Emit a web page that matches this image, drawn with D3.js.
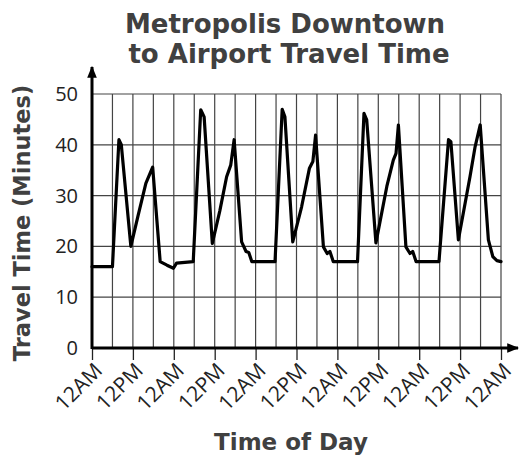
<!DOCTYPE html>
<meta charset="utf-8">
<style>
body { margin: 0; background: #fff; }
text { font-family: "Open Sans", sans-serif; }
.bold { font-family: "DejaVu Sans", sans-serif; font-weight: bold; fill: #404040; }
.grid line { stroke: #444; stroke-width: 1.2; }
.trace { fill: none; stroke: #000; stroke-width: 3.2; stroke-linejoin: round; stroke-linecap: round; }
</style>
<svg width="519" height="457"></svg>
<script src="https://d3js.org/d3.v7.min.js"></script>
<script>

// hours since the first 12AM, and travel time in minutes
var hours = [0, 6, 7.9, 8.6, 11.4, 13.5, 15.8, 17.8, 20, 22, 23.9, 24.8, 29.7,
  31.9, 32.9, 35.3, 37.5, 39.5, 40.7, 41.7, 43.9, 45.2, 46, 46.9, 53.7,
  55.8, 56.6, 58.9, 61.5, 63.8, 64.8, 65.6, 67.9, 69, 69.8, 70.8, 77.9,
  79.8, 80.6, 83.3, 86.5, 88.4, 89.2, 89.9, 92.1, 93.3, 94.1, 95.1, 101.8,
  104.6, 105.3, 107.5, 110.9, 112.4, 113.9, 116.3, 117.6, 118.8, 120];
var minutes = [16, 16, 41, 40, 20, 26, 32.4, 35.6, 17, 16.3, 15.7, 16.7, 17,
  46.9, 45.5, 20.6, 27, 33.7, 36, 41, 20.9, 19, 18.8, 17, 17,
  47, 45.5, 20.9, 27.8, 35.4, 36.7, 41.9, 19.9, 18.6, 19, 17, 17,
  46.2, 44.9, 20.7, 31.8, 37, 38.3, 43.9, 19.9, 18.6, 19, 17, 17,
  41, 40.6, 21.3, 33.7, 39.6, 43.9, 21.3, 18, 17.2, 17];

var xTickValues = [0, 12, 24, 36, 48, 60, 72, 84, 96, 108, 120];
var xTickLabels = ["12AM", "12PM", "12AM", "12PM", "12AM", "12PM", "12AM", "12PM", "12AM", "12PM", "12AM"];
var yTickValues = [0, 10, 20, 30, 40, 50];

var svg = d3.select("svg");

var x = d3.scaleLinear().domain([0, 120]).range([92, 501]),
    y = d3.scaleLinear().domain([0, 50]).range([348, 94]);

// grid
var grid = svg.append("g").attr("class", "grid");
grid.selectAll(".v")
  .data(d3.range(6, 121, 6))
  .enter().append("line")
    .attr("x1", function(d) { return x(d); })
    .attr("x2", function(d) { return x(d); })
    .attr("y1", y(0))
    .attr("y2", y(50));
grid.selectAll(".h")
  .data(yTickValues.slice(1))
  .enter().append("line")
    .attr("x1", x(0))
    .attr("x2", x(120))
    .attr("y1", function(d) { return y(d); })
    .attr("y2", function(d) { return y(d); });

// arrow heads
svg.append("defs").append("marker")
    .attr("id", "arrow")
    .attr("viewBox", "0 0 10 10")
    .attr("refX", 9).attr("refY", 5)
    .attr("markerWidth", 4).attr("markerHeight", 4)
    .attr("markerUnits", "strokeWidth")
    .attr("orient", "auto")
  .append("path")
    .attr("d", "M0,1 L10,5 L0,9 Z")
    .attr("fill", "#000");

// x axis
var xAxis = svg.append("g")
    .attr("transform", "translate(0," + y(0) + ")")
    .call(d3.axisBottom(x)
      .tickValues(xTickValues)
      .tickSize(12)
      .tickFormat(function(d, i) { return xTickLabels[i]; }));
xAxis.select(".domain").remove();
xAxis.selectAll(".tick line").attr("stroke", "#222").attr("stroke-width", 1.3);
xAxis.selectAll(".tick text")
    .attr("font-size", 21)
    .attr("fill", "#222")
    .attr("text-anchor", "end")
    .attr("y", 0).attr("dy", 0)
    .attr("transform", "translate(11,24) rotate(-45)");

// y axis
var yAxis = svg.append("g")
    .attr("transform", "translate(" + x(0) + ",0)")
    .call(d3.axisLeft(y).tickValues(yTickValues).tickSize(0).tickPadding(14));
yAxis.select(".domain").remove();
yAxis.selectAll(".tick text").attr("font-size", 20).attr("fill", "#222");

svg.append("line")
    .attr("x1", x(0)).attr("x2", 518)
    .attr("y1", y(0)).attr("y2", y(0))
    .attr("stroke", "#000").attr("stroke-width", 3)
    .attr("marker-end", "url(#arrow)");
svg.append("line")
    .attr("x1", x(0)).attr("x2", x(0))
    .attr("y1", y(0) + 1).attr("y2", 67)
    .attr("stroke", "#000").attr("stroke-width", 3)
    .attr("marker-end", "url(#arrow)");

// trace
var line = d3.line()
    .x(function(d, i) { return x(hours[i]); })
    .y(function(d) { return y(d); });
svg.append("path")
    .datum(minutes)
    .attr("class", "trace")
    .attr("d", line);

// titles
svg.append("text")
    .attr("class", "bold")
    .attr("x", 285).attr("y", 33)
    .attr("text-anchor", "middle")
    .attr("font-size", 26)
    .text("Metropolis Downtown");
svg.append("text")
    .attr("class", "bold")
    .attr("x", 289).attr("y", 63)
    .attr("text-anchor", "middle")
    .attr("font-size", 26)
    .text("to Airport Travel Time");

svg.append("text")
    .attr("class", "bold")
    .attr("x", 291).attr("y", 450)
    .attr("text-anchor", "middle")
    .attr("font-size", 23)
    .text("Time of Day");

svg.append("text")
    .attr("class", "bold")
    .attr("transform", "translate(30,223) rotate(-90)")
    .attr("text-anchor", "middle")
    .attr("font-size", 22.5)
    .text("Travel Time (Minutes)");

</script>
